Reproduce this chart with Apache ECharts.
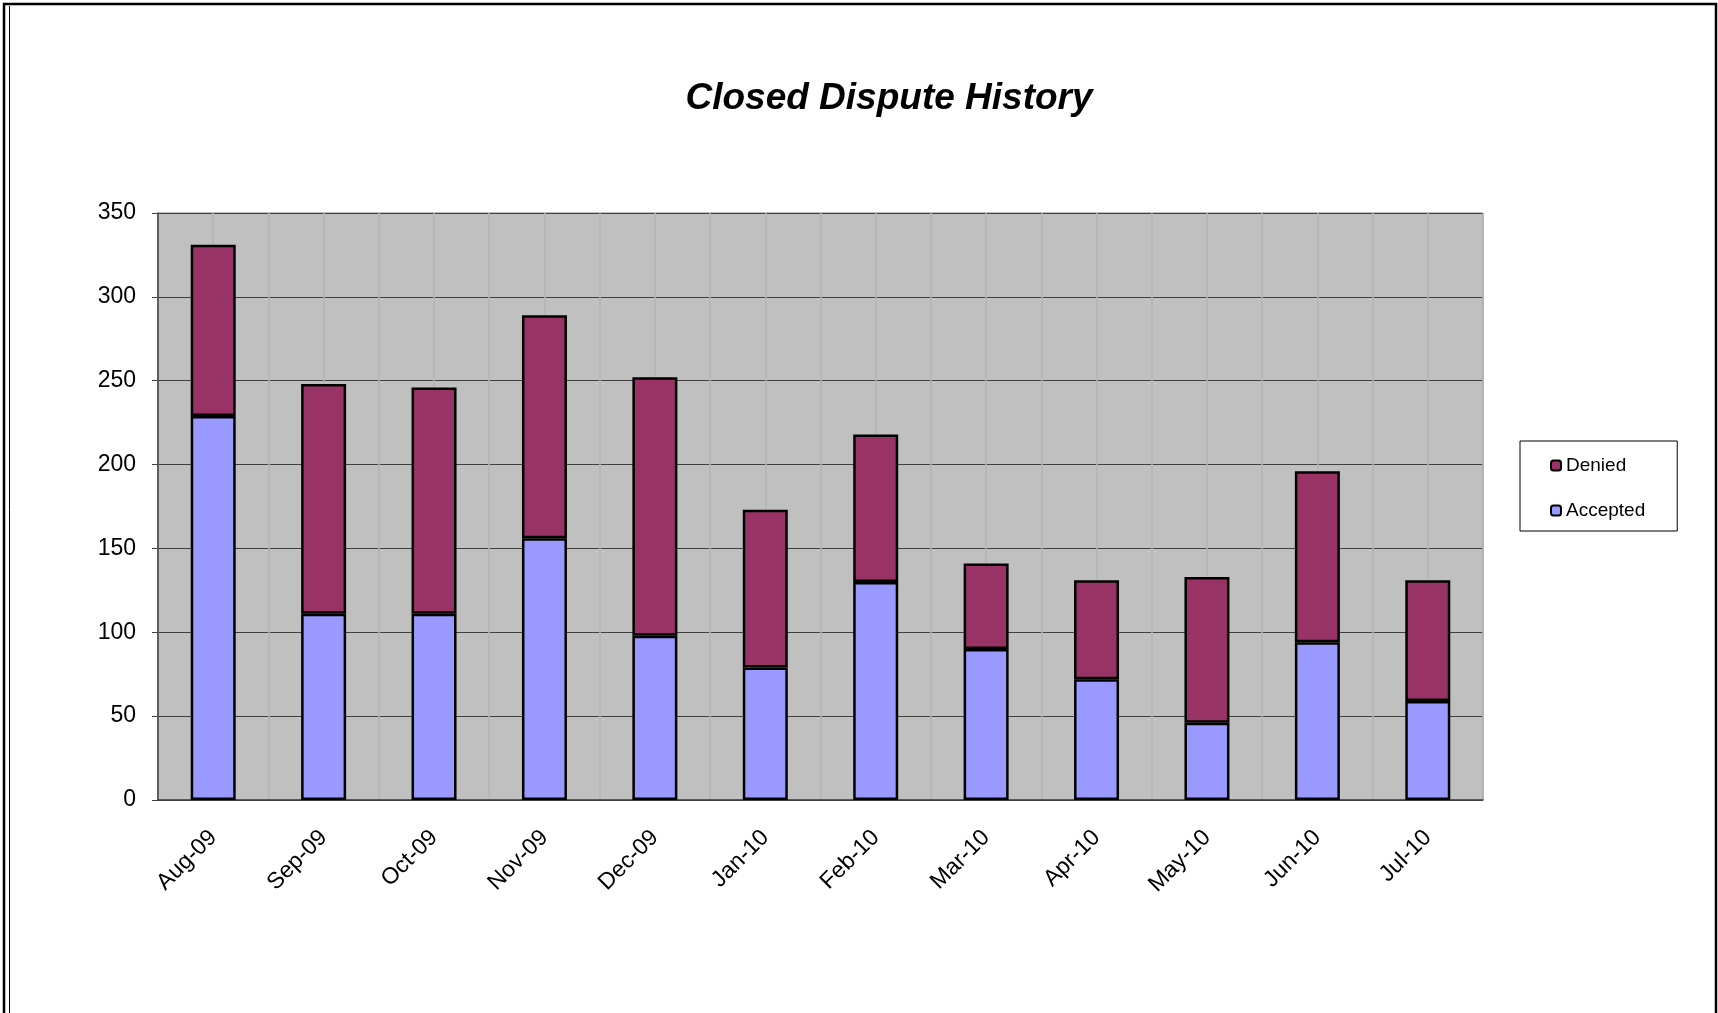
<!DOCTYPE html>
<html>
<head>
  <meta charset="utf-8" />
  <script src="https://cdn.jsdelivr.net/npm/echarts@6/dist/echarts.min.js"></script>
  <style>
    html, body { margin: 0; padding: 0; background: #fff; }
    #main { width: 1718px; height: 1013px; }
  </style>
  <title>Closed Dispute History</title>
</head>
<body>
  <div id="main"></div>
  <script>
    // months on the x axis
    var months = ['Aug-09', 'Sep-09', 'Oct-09', 'Nov-09', 'Dec-09', 'Jan-10',
                  'Feb-10', 'Mar-10', 'Apr-10', 'May-10', 'Jun-10', 'Jul-10'];
    // stacked values
    var accepted = [229, 111, 111, 156, 98, 79, 130, 90, 72, 46, 94, 59];
    var denied   = [102, 137, 135, 133, 154, 94, 88, 51, 59, 87, 102, 72];
    var yTicks = [0, 50, 100, 150, 200, 250, 300, 350];

    // half-category slots, only used for the light vertical grid lines
    var halfSlots = [];
    for (var i = 0; i < months.length * 2; i++) halfSlots.push('');

    var font = '"Liberation Sans", Arial, sans-serif';
    var myChart = echarts.init(document.getElementById('main'));

    var option = {
      backgroundColor: '#fff',
      animation: false,
      title: {
        text: 'Closed Dispute History',
        left: 884,
        top: 75,
        textAlign: 'center',
        textStyle: {
          fontFamily: font,
          fontSize: 37,
          fontWeight: 'bold',
          fontStyle: 'italic',
          color: '#000'
        }
      },
      legend: {
        data: ['Denied', 'Accepted'],
        orient: 'vertical',
        left: 1520,
        top: 441,
        padding: [15, 32, 11, 30],
        itemGap: 26,
        itemWidth: 10,
        itemHeight: 10,
        itemTextGap: 3,
        borderColor: '#000',
        borderWidth: 1,
        textStyle: { fontFamily: font, fontSize: 19, color: '#000' }
      },
      grid: {
        left: 158,
        top: 213,
        right: 235,
        bottom: 213,
        show: true,
        backgroundColor: '#c0c0c0',
        borderColor: '#808080',
        borderWidth: 1
      },
      xAxis: [{
        type: 'category',
        data: months,
        position: 'bottom',
        axisLine: { lineStyle: { color: '#404040', width: 1.5 } },
        axisTick: { length: 7, lineStyle: { color: '#404040' } },
        axisLabel: {
          rotate: 45,
          margin: 34,
          fontFamily: font,
          fontSize: 23,
          color: '#000'
        },
        splitLine: { show: false }
      }, {
        type: 'category',
        data: halfSlots,
        position: 'top',
        axisLine: { show: false },
        axisTick: { show: false },
        axisLabel: { show: false },
        splitLine: { show: true, lineStyle: { color: '#b4b4b4', width: 1.5 } }
      }],
      yAxis: {
        type: 'value',
        min: yTicks[0],
        max: yTicks[yTicks.length - 1],
        interval: 50,
        axisLine: { show: true, lineStyle: { color: '#404040', width: 1.5 } },
        axisTick: { show: true, length: 6, lineStyle: { color: '#404040' } },
        axisLabel: {
          margin: 22,
          fontFamily: font,
          fontSize: 23,
          color: '#000'
        },
        splitLine: { lineStyle: { color: '#404040', width: 1.2 } }
      },
      series: [{
        name: 'Accepted',
        type: 'bar',
        stack: 'total',
        data: accepted,
        barWidth: 45,
        itemStyle: { color: '#9999ff', borderColor: '#000', borderWidth: 2.5 }
      }, {
        name: 'Denied',
        type: 'bar',
        stack: 'total',
        data: denied,
        barWidth: 45,
        itemStyle: { color: '#993366', borderColor: '#000', borderWidth: 2.5 }
      }],
      graphic: [{
        // outer frame of the sheet
        type: 'rect',
        shape: { x: 4, y: 4, width: 1712, height: 1020 },
        style: { fill: 'none', stroke: '#000', lineWidth: 2.5 },
        silent: true
      }, {
        type: 'line',
        shape: { x1: 9.5, y1: 6, x2: 9.5, y2: 1013 },
        style: { stroke: '#000', lineWidth: 1 },
        silent: true
      }]
    };
    myChart.setOption(option);
  </script>
</body>
</html>
